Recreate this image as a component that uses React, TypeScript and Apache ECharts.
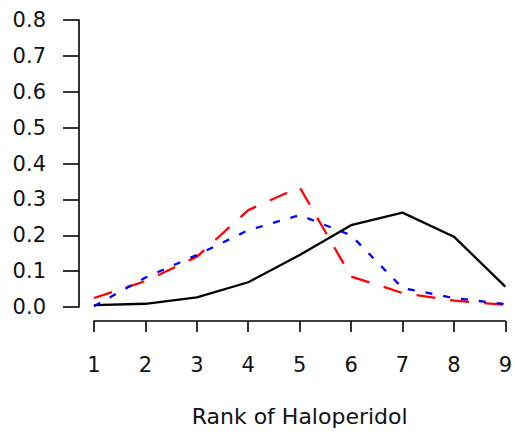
import React, { useEffect, useRef } from "react";
import * as echarts from "echarts";

const ranks = [1, 2, 3, 4, 5, 6, 7, 8, 9];
const solidBlack = [0.005, 0.009, 0.027, 0.069, 0.145, 0.228, 0.263, 0.196, 0.057];
const dashedRed = [0.025, 0.072, 0.14, 0.27, 0.334, 0.085, 0.039, 0.018, 0.006];
const dottedBlue = [0.002, 0.082, 0.145, 0.214, 0.256, 0.2, 0.053, 0.025, 0.008];
const yTicks = [0, 0.1, 0.2, 0.3, 0.4, 0.5, 0.6, 0.7, 0.8];

const FONT = "DejaVu Sans";

export default function App() {
  const ref = useRef<HTMLDivElement>(null);
  useEffect(() => {
    document.body.style.margin = "0";
    const chart = echarts.init(ref.current!, null, { renderer: "svg" });
    const pair = (vals: number[]) => ranks.map((r, i) => [r, vals[i]]);
    chart.setOption({
      animation: false,
      backgroundColor: "#ffffff",
      grid: { left: 94, right: 5, top: 20, bottom: 123, containLabel: false },
      xAxis: {
        type: "value",
        min: 1,
        max: 9,
        interval: 1,
        offset: 14,
        name: "Rank of Haloperidol",
        nameLocation: "middle",
        nameGap: 84,
        nameTextStyle: { fontFamily: FONT, fontSize: 22, color: "#111" },
        axisLine: { show: true, onZero: false, lineStyle: { color: "#000", width: 1.6 } },
        axisTick: { show: true, length: 11, lineStyle: { color: "#000", width: 1.6 } },
        axisLabel: { margin: 33, fontFamily: FONT, fontSize: 21, color: "#111" },
        splitLine: { show: false },
      },
      yAxis: {
        type: "value",
        min: yTicks[0],
        max: yTicks[yTicks.length - 1],
        interval: 0.1,
        offset: 15,
        axisLine: { show: true, onZero: false, lineStyle: { color: "#000", width: 1.6 } },
        axisTick: { show: true, length: 16, lineStyle: { color: "#000", width: 1.6 } },
        axisLabel: {
          margin: 33,
          fontFamily: FONT,
          fontSize: 21,
          color: "#111",
          formatter: (v: number) => v.toFixed(1),
        },
        splitLine: { show: false },
      },
      series: [
        {
          type: "line",
          data: pair(solidBlack),
          symbol: "none",
          clip: false,
          lineStyle: { color: "#000000", width: 2.3, type: "solid" },
        },
        {
          type: "line",
          data: pair(dashedRed),
          symbol: "none",
          clip: false,
          lineStyle: { color: "#ff0000", width: 2.3, type: [19, 15] },
        },
        {
          type: "line",
          data: pair(dottedBlue),
          symbol: "none",
          clip: false,
          lineStyle: { color: "#0000ff", width: 2.3, type: [7, 11] },
        },
      ],
    });
    return () => chart.dispose();
  }, []);
  return <div ref={ref} style={{ width: 515, height: 432 }} />;
}
